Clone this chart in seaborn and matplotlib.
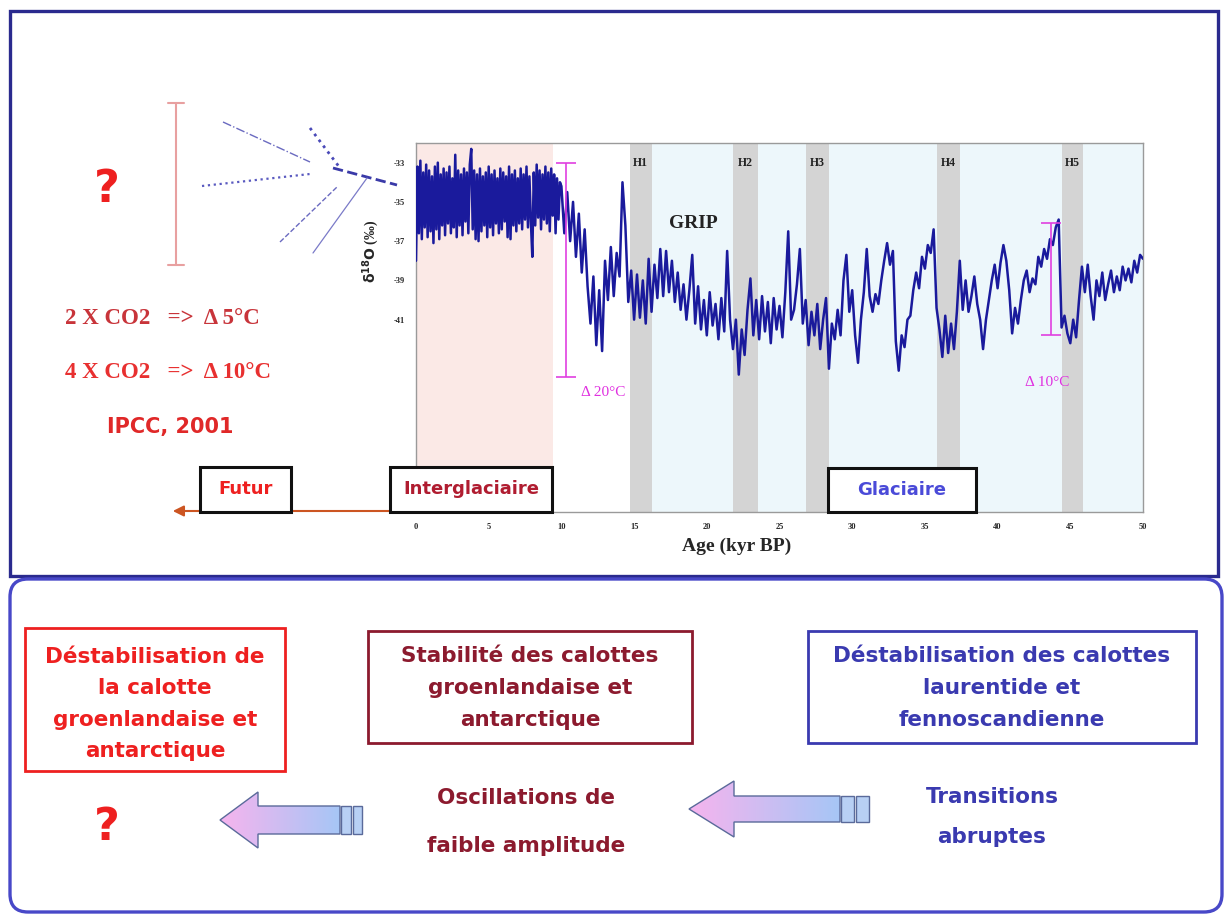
import numpy as np
import pandas as pd
import matplotlib.pyplot as plt
import seaborn as sns
from matplotlib.patches import Rectangle, FancyBboxPatch, Polygon

sns.set_theme(style="white")
plt.rcParams['font.family'] = ['DejaVu Sans']
SERIF = ['Liberation Serif', 'DejaVu Serif']

# GRIP d18O (permil)
# Holocene part every 0.1 kyr (0.0 - 9.9 kyr BP)
holo_step = 0.1
d18o_holo = [
    -38.0, -33.2, -36.6, -32.9, -36.9, -33.5, -36.3, -33.1, -36.8, -33.4,
    -36.5, -33.7, -37.1, -33.2, -36.4, -33.0, -36.9, -33.6, -36.2, -33.3,
    -36.7, -33.5, -36.1, -33.2, -36.6, -33.8, -36.3, -32.6, -36.8, -33.4,
    -36.2, -33.6, -36.7, -33.3, -36.0, -33.5, -36.6, -33.1, -32.3, -36.4,
    -33.4, -36.9, -33.6, -37.0, -33.3, -36.5, -33.7, -36.2, -33.5, -36.8,
    -33.2, -36.3, -33.6, -36.7, -33.4, -36.1, -33.8, -36.6, -33.3, -36.4,
    -33.5, -36.0, -33.7, -36.8, -33.2, -36.9, -33.6, -36.2, -33.4, -36.5,
    -33.8, -36.1, -33.3, -36.4, -33.6, -35.9, -33.2, -36.3, -33.7, -36.0,
    -37.8, -33.5, -36.2, -33.1, -35.8, -33.4, -36.4, -33.6, -35.9, -33.2,
    -36.1, -33.5, -36.5, -33.3, -35.7, -33.6, -36.6, -33.8, -35.9, -34.0,
]
# deglaciation and glacial part every 0.2 kyr (10.0 - 50.0 kyr BP)
glac_start = 10.0
glac_step = 0.2
d18o_glac = [
    -34.2, -36.6, -34.5, -37.0, -35.0,  -37.8, -35.6, -38.6, -36.4, -39.3,
    -41.2, -38.8, -42.3, -39.5, -42.6,  -38.0, -40.0, -37.3, -39.8, -37.6,
    -38.8, -34.0, -36.2, -40.1, -38.5,  -41.0, -38.7, -40.9, -39.0, -41.2,
    -37.9, -40.6, -38.2, -39.9, -37.4,  -39.8, -37.5, -39.6, -38.0, -40.1,
    -38.6, -40.5, -39.2, -41.0, -39.5,  -37.7, -41.2, -39.3, -41.5, -40.0,
    -41.8, -39.6, -41.3, -40.2, -42.0,  -39.9, -41.6, -37.5, -41.0, -42.5,
    -41.0, -43.8, -41.5, -42.8, -40.5,  -38.9, -41.8, -40.0, -42.0, -39.8,
    -41.6, -40.1, -42.2, -39.9, -41.5,  -40.3, -41.9, -39.6, -36.5, -41.0,
    -40.5, -39.2, -37.4, -41.2, -40.0,  -42.3, -40.6, -41.8, -40.2, -42.5,
    -41.0, -39.9, -43.5, -41.2, -42.0,  -40.5, -41.8, -39.0, -37.7, -40.6,
    -39.5, -41.8, -43.2, -41.0, -39.6,  -37.4, -39.8, -40.6, -39.7, -40.2,
    -39.0, -38.0, -37.1, -38.2, -37.5,  -42.1, -43.6, -41.8, -42.4, -41.0,
    -40.8, -39.5, -38.6, -39.4, -37.8,  -38.4, -37.2, -37.6, -36.4, -40.4,
    -41.5, -42.9, -40.8, -42.7, -41.2,  -42.5, -40.6, -38.0, -40.5, -39.0,
    -40.6, -39.8, -38.8, -40.2, -41.0,  -42.5, -41.0, -40.0, -39.0, -38.2,
    -39.4, -38.1, -37.2, -38.0, -39.5,  -41.7, -40.4, -41.2, -40.0, -39.0,
    -38.5, -39.6, -38.9, -39.2, -37.8,  -38.3, -37.4, -37.9, -36.9, -37.2,
    -36.3, -35.9, -41.4, -40.8, -41.7,  -42.2, -41.0, -41.9, -40.0, -38.3,
    -39.6, -38.2, -39.8, -41.0, -39.0,  -39.8, -38.6, -40.0, -39.2, -38.5,
    -39.6, -38.8, -39.5, -38.3, -39.0,  -38.4, -39.1, -38.0, -38.6, -37.7,
    -37.9,
]
ages = np.concatenate([
    np.round(np.arange(len(d18o_holo)) * holo_step, 1),
    np.round(glac_start + np.arange(len(d18o_glac)) * glac_step, 1),
])

# Heinrich events (kyr BP)
h_names = ['H1', 'H2', 'H3', 'H4', 'H5']
h_start = [14.7, 21.8, 26.8, 35.8, 44.4]
h_end = [16.2, 23.5, 28.4, 37.4, 45.9]

# periods
interglacial = (0, 9.4)
glacial = (14.7, 50)

# amplitude bars
amp_age = [10.3, 43.7]
amp_top = [-33.0, -36.1]
amp_bottom = [-43.9, -41.8]
amp_labels = ['Δ 20°C', 'Δ 10°C']
amp_label_pos = [(12.9, -44.7), (43.4, -44.2)]

x_ticks = list(range(0, 51, 5))
y_ticks = [-33, -35, -37, -39, -41]

df = pd.DataFrame({'age': ages, 'd18o': d18o_holo + d18o_glac})

W, H = 1229, 915
fig = plt.figure(figsize=(W / 100, H / 100), dpi=100)
fig.patch.set_facecolor('white')

# axes placed in pixel units
L, R, T, B = 416, 1143, 143, 512
ax = fig.add_axes([L / W, 1 - B / H, (R - L) / W, (B - T) / H])
ax.set_facecolor('white')
ax.axvspan(*interglacial, color='#fbe9e6', lw=0, zorder=0)
ax.axvspan(*glacial, color='#edf7fb', lw=0, zorder=0)
for s, e in zip(h_start, h_end):
    ax.axvspan(s, e, color='#d4d4d4', lw=0, zorder=1)

sns.lineplot(data=df, x='age', y='d18o', ax=ax, color='#1a1a9c', lw=1.8,
             estimator=None, zorder=3)

for name, s, e in zip(h_names, h_start, h_end):
    ax.text((s + e) / 2, -33.0, name, ha='center', va='center', fontsize=8.5,
            fontweight='bold', family=SERIF, color='#222222', zorder=4)
ax.text(19.1, -36.1, 'GRIP', ha='center', va='center', fontsize=14,
        fontweight='bold', family=SERIF, color='#222222', zorder=4)

ax.errorbar(amp_age, [(a + b) / 2 for a, b in zip(amp_top, amp_bottom)],
            yerr=[[(a - b) / 2 for a, b in zip(amp_top, amp_bottom)]] * 2,
            fmt='none', ecolor='#e040e0', elinewidth=1.2, capsize=7, capthick=1.2, zorder=5)
for lab, (x, y) in zip(amp_labels, amp_label_pos):
    ax.text(x, y, lab, ha='center', va='center', fontsize=11, family=SERIF,
            color='#e030e0', zorder=5)

ax.set_xlim(0, 50)
ax.set_ylim(-50.8, -32.0)
ax.set_xticks(x_ticks)
ax.set_xticklabels([str(t) for t in x_ticks])
ax.set_yticks(y_ticks)
ax.set_yticklabels([str(t) for t in y_ticks])
ax.tick_params(axis='both', direction='in', length=3, width=0.8, color='#666666',
               labelsize=6, pad=8)
for lab in ax.get_xticklabels() + ax.get_yticklabels():
    lab.set_family(SERIF)
    lab.set_fontweight('bold')
for sp in ax.spines.values():
    sp.set_color('#9a9a9a')
    sp.set_linewidth(1.0)
ax.set_xlabel('Age (kyr BP)', fontsize=14, fontweight='bold', family=SERIF)
ax.xaxis.set_label_coords((737 - L) / (R - L), -(538 - B) / (B - T))
ax.set_ylabel(r'$\mathbf{\delta^{18}O}$ (‰)', fontsize=10, fontweight='bold', family=SERIF)
ax.yaxis.set_label_coords((381 - L) / (R - L), (B - 251) / (B - T))

# overlay in pixel coordinates
ov = fig.add_axes([0, 0, 1, 1], zorder=10)
ov.set_xlim(0, W)
ov.set_ylim(H, 0)
ov.axis('off')
ov.patch.set_alpha(0)

# frames
ov.add_patch(Rectangle((10, 11), 1208, 565, fill=False, ec='#2a2a8e', lw=2.4))
ov.add_patch(FancyBboxPatch((10, 579), 1212, 333, boxstyle='round,pad=0,rounding_size=18',
                            fill=False, ec='#4848c8', lw=2.4))

red = '#ee2020'
dred = '#8c1a2e'
blue = '#3a3ab0'

# upper left: future projections
ov.text(107, 190, '?', ha='center', va='center', fontsize=32, fontweight='bold', color=red)
ov.plot([176, 176], [103, 265], color='#e8a0a0', lw=1.5)
ov.plot([168, 184], [103, 103], color='#e8a0a0', lw=1.5)
ov.plot([168, 184], [265, 265], color='#e8a0a0', lw=1.5)
ov.plot([223, 310], [122, 162], color='#6a6ac0', lw=1.0, ls='-.')
ov.plot([202, 310], [186, 174], color='#5a5ac0', lw=1.6, ls=':')
ov.plot([310, 340], [128, 168], color='#4a4ab8', lw=2.0, ls=':')
ov.plot([333, 397], [168, 185], color='#3a3aa8', lw=2.0, ls='--')
ov.plot([280, 337], [242, 187], color='#6a6ac0', lw=1.0, ls='--')
ov.plot([313, 367], [253, 178], color='#7a7ac8', lw=0.9, ls='-')

ov.text(65, 318, '2 X CO2   =>  Δ 5°C', ha='left', va='center', fontsize=16.5,
        fontweight='bold', family=SERIF, color='#c8343a')
ov.text(65, 372, '4 X CO2   =>  Δ 10°C', ha='left', va='center', fontsize=16.5,
        fontweight='bold', family=SERIF, color='#e83030')
ov.text(170, 427, 'IPCC, 2001', ha='center', va='center', fontsize=15,
        fontweight='bold', color='#e02828')

# period boxes and arrow to the future
ov.annotate('', xy=(170, 511), xytext=(395, 511),
            arrowprops=dict(arrowstyle='-|>', color='#cc5522', lw=1.5, mutation_scale=16))
for (x0, x1, y0, y1, txt, col) in [(200, 291, 467, 512, 'Futur', red),
                                    (390, 552, 467, 512, 'Interglaciaire', '#b01c30'),
                                    (828, 976, 468, 512, 'Glaciaire', '#4a4ad8')]:
    ov.add_patch(Rectangle((x0, y0), x1 - x0, y1 - y0, fc='white', ec='#111111', lw=2.2, zorder=5))
    ov.text((x0 + x1) / 2, (y0 + y1) / 2, txt, ha='center', va='center', fontsize=13,
            fontweight='bold', color=col, zorder=6)

# lower panel boxes
ov.add_patch(Rectangle((25, 628), 260, 143, fill=False, ec=red, lw=2.0))
ov.text(155, 704, 'Déstabilisation de\nla calotte\ngroenlandaise et\nantarctique',
        ha='center', va='center', fontsize=15.5, fontweight='bold', color=red, linespacing=1.72)
ov.add_patch(Rectangle((368, 631), 324, 112, fill=False, ec=dred, lw=2.0))
ov.text(530, 688, 'Stabilité des calottes\ngroenlandaise et\nantarctique',
        ha='center', va='center', fontsize=15.5, fontweight='bold', color=dred, linespacing=1.72)
ov.add_patch(Rectangle((808, 631), 388, 112, fill=False, ec=blue, lw=2.0))
ov.text(1002, 688, 'Déstabilisation des calottes\nlaurentide et\nfennoscandienne',
        ha='center', va='center', fontsize=15.5, fontweight='bold', color=blue, linespacing=1.72)

ov.text(107, 827, '?', ha='center', va='center', fontsize=32, fontweight='bold', color=red)
ov.text(526, 822, 'Oscillations de\nfaible amplitude', ha='center', va='center', fontsize=15.5,
        fontweight='bold', color=dred, linespacing=2.7)
ov.text(992, 817, 'Transitions\nabruptes', ha='center', va='center', fontsize=15.5,
        fontweight='bold', color=blue, linespacing=2.2)

# gradient block arrows
grad = np.linspace(0, 1, 256).reshape(1, -1)
cmap = sns.blend_palette(['#f6b4ee', '#a6c6f6'], as_cmap=True)


def block_arrow(tip, base, tail, yc, hh, sh, stripe_end):
    pts = [(tip, yc), (base, yc - hh), (base, yc - sh), (tail, yc - sh),
           (tail, yc + sh), (base, yc + sh), (base, yc + hh)]
    poly = Polygon(pts, closed=True, fc='none', ec='#5a6a9a', lw=1.0, zorder=4)
    ov.add_patch(poly)
    im = ov.imshow(grad, cmap=cmap, extent=[tip, tail, yc + hh, yc - hh],
                   aspect='auto', zorder=3)
    im.set_clip_path(poly)
    w = (stripe_end - tail - 3) / 2
    for k in range(2):
        ov.add_patch(Rectangle((tail + 1 + k * (w + 2), yc - sh), w, 2 * sh,
                               fc='#b8d0f4', ec='#5a6a9a', lw=1.0, zorder=4))


block_arrow(220, 258, 340, 820, 28, 14, 362)
block_arrow(689, 734, 840, 809, 28, 13, 869)

ov.set_xlim(0, W)
ov.set_ylim(H, 0)

fig.savefig('out.png', dpi=100)
